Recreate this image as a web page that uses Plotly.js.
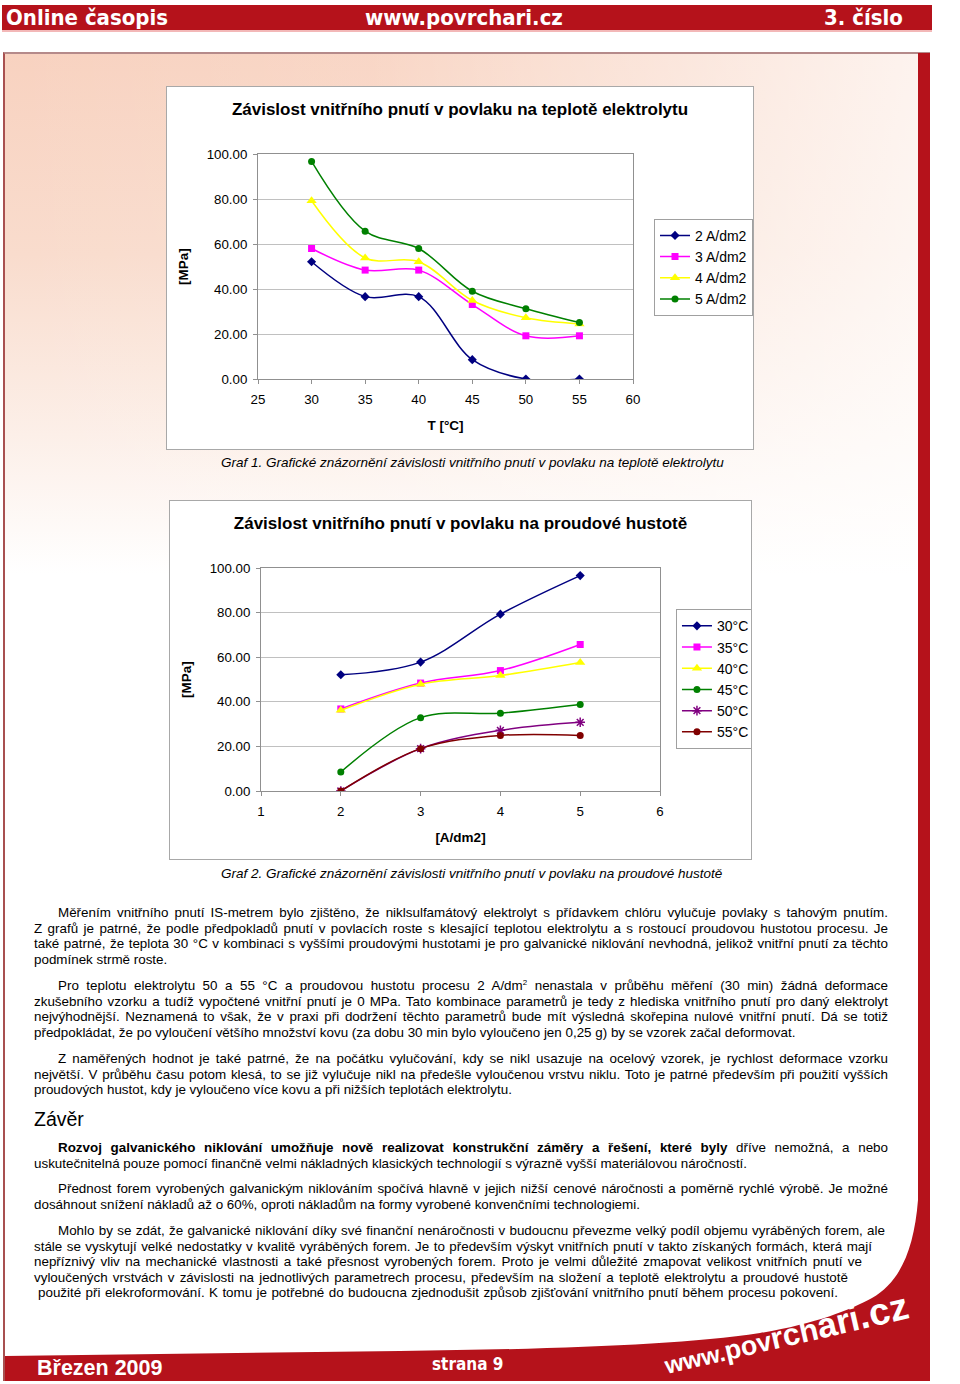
<!DOCTYPE html>
<html>
<head>
<meta charset="utf-8">
<script src="https://cdn.plot.ly/plotly-3.0.1.min.js"></script>
<style>
  html, body { margin:0; padding:0; }
  body { width:960px; height:1384px; position:relative; background:#fff; overflow:hidden;
         font-family:"Liberation Sans", Arial, sans-serif; color:#000; }
  .abs { position:absolute; }
  #hdr { left:2px; top:5px; width:930px; height:25px; background:#b5121b; border-bottom:2px solid #f3b8b8; }
  .hdrtxt { position:absolute; top:0; line-height:26px; color:#fff; font-weight:bold; font-size:22px;
            font-family:"Liberation Sans Narrow","DejaVu Sans Condensed","Liberation Sans",sans-serif; font-stretch:condensed; }
  #frame { left:3px; top:52px; width:927px; height:1329px; box-sizing:border-box;
           border-left:2px solid #a85050; border-top:2px solid #b58a8a;
           background-color:#fff;
           background-image: linear-gradient(to right, rgba(255,255,255,0) 0%, rgba(255,255,255,0.1) 40%, rgba(255,255,255,0.75) 100%),
                             linear-gradient(to bottom, #f8d2c0 0px, #f9dccd 200px, #fcefe8 380px, #ffffff 520px); }
  #rbar { left:918px; top:53px; width:12px; height:1328px; background:#b5121b; }
  .box { position:absolute; background:#fff; border:1px solid #a8a8a8; box-sizing:border-box; }
  .cap { position:absolute; font-style:italic; font-size:13.5px; white-space:nowrap; }
  .para { position:absolute; left:34px; width:854px; font-size:13.4px; line-height:15.6px; }
  .para span.l { display:block; white-space:nowrap; text-align:justify; text-align-last:justify; }
  .para span.first { padding-left:24px; }
  .para span.last { text-align-last:left; }
</style>
</head>
<body>
<div id="hdr" class="abs">
  <div class="hdrtxt" style="left:4px;">Online časopis</div>
  <div class="hdrtxt" style="left:363px;">www.povrchari.cz</div>
  <div class="hdrtxt" style="left:822px;">3. číslo</div>
</div>
<div id="frame" class="abs"></div>
<div id="rbar" class="abs"></div>

<div class="box" style="left:166px;top:86px;width:588px;height:364px;"><div id="c1"></div></div>
<div class="cap" style="left:221px;top:455px;">Graf 1. Grafické znázornění závislosti vnitřního pnutí v povlaku na teplotě elektrolytu</div>

<div class="box" style="left:169px;top:500px;width:583px;height:360px;"><div id="c2"></div></div>
<div class="cap" style="left:221px;top:866px;">Graf 2. Grafické znázornění závislosti vnitřního pnutí v povlaku na proudové hustotě</div>

<div class="para" style="top:905px;">
<span class="l first">Měřením vnitřního pnutí IS-metrem bylo zjištěno, že niklsulfamátový elektrolyt s přídavkem chlóru vylučuje povlaky s tahovým pnutím.</span>
<span class="l">Z grafů je patrné, že podle předpokladů pnutí v povlacích roste s klesající teplotou elektrolytu a s rostoucí proudovou hustotou procesu. Je</span>
<span class="l">také patrné, že teplota 30 °C v kombinaci s vyššími proudovými hustotami je pro galvanické niklování nevhodná, jelikož vnitřní pnutí za těchto</span>
<span class="l last">podmínek strmě roste.</span>
</div>

<div class="para" style="top:978px;">
<span class="l first">Pro teplotu elektrolytu 50 a 55 °C a proudovou hustotu procesu 2 A/dm<sup style="font-size:8px;line-height:0;">2</sup> nenastala v průběhu měření (30 min) žádná deformace</span>
<span class="l">zkušebního vzorku a tudíž vypočtené vnitřní pnutí je 0 MPa. Tato kombinace parametrů je tedy z hlediska vnitřního pnutí pro daný elektrolyt</span>
<span class="l">nejvýhodnější. Neznamená to však, že v praxi při dodržení těchto parametrů bude mít výsledná skořepina nulové vnitřní pnutí. Dá se totiž</span>
<span class="l last">předpokládat, že po vyloučení většího množství kovu (za dobu 30 min bylo vyloučeno jen 0,25 g) by se vzorek začal deformovat.</span>
</div>

<div class="para" style="top:1051px;">
<span class="l first">Z naměřených hodnot je také patrné, že na počátku vylučování, kdy se nikl usazuje na ocelový vzorek, je rychlost deformace vzorku</span>
<span class="l">největší. V průběhu času potom klesá, to se již vylučuje nikl na předešle vyloučenou vrstvu niklu. Toto je patrné především při použití vyšších</span>
<span class="l last">proudových hustot, kdy je vyloučeno více kovu a při nižších teplotách elektrolytu.</span>
</div>

<div class="abs" style="left:34px;top:1108px;font-size:19.5px;line-height:22px;">Závěr</div>

<div class="para" style="top:1140px;">
<span class="l first"><b>Rozvoj galvanického niklování umožňuje nově realizovat konstrukční záměry a řešení, které byly</b> dříve nemožná, a nebo</span>
<span class="l last">uskutečnitelná pouze pomocí finančně velmi nákladných klasických technologií s výrazně vyšší materiálovou náročností.</span>
</div>

<div class="para" style="top:1181px;">
<span class="l first">Přednost forem vyrobených galvanickým niklováním spočívá hlavně v jejich nižší cenové náročnosti a poměrně rychlé výrobě. Je možné</span>
<span class="l last">dosáhnout snížení nákladů až o 60%, oproti nákladům na formy vyrobené konvenčními technologiemi.</span>
</div>

<div class="para" style="top:1223px;">
<span class="l first" style="width:827px;">Mohlo by se zdát, že galvanické niklování díky své finanční nenáročnosti v budoucnu převezme velký podíl objemu vyráběných forem, ale</span>
<span class="l" style="width:838px;">stále se vyskytují velké nedostatky v kvalitě vyráběných forem. Je to především výskyt vnitřních pnutí v takto získaných formách, která mají</span>
<span class="l" style="width:828px;">nepříznivý vliv na mechanické vlastnosti a také přesnost vyrobených forem. Proto je velmi důležité zmapovat velikost vnitřních pnutí ve</span>
<span class="l" style="width:814px;">vyloučených vrstvách v závislosti na jednotlivých parametrech procesu, především na složení a teplotě elektrolytu a proudové hustotě</span>
<span class="l" style="width:800px;margin-left:4px;">použité při elekroformování. K tomu je potřebné do budoucna zjednodušit způsob zjišťování vnitřního pnutí během procesu pokovení.</span>
</div>

<svg class="abs" style="left:0;top:0;" width="960" height="1384">
  <path d="M5,1356 L400,1351 C560,1349 680,1345 760,1333 C815,1324 850,1310 872,1298 C900,1282 914,1250 918,1200 L930,1200 L930,1381 L5,1381 Z" fill="#b5121b"/>
  <text x="667" y="1374" transform="rotate(-13 667 1374)" fill="#fff" font-weight="bold"
        font-family="'Liberation Sans','DejaVu Sans',sans-serif" textLength="250" lengthAdjust="spacingAndGlyphs"><tspan font-size="24">www.</tspan><tspan font-size="27">pov</tspan><tspan font-size="31">rch</tspan><tspan font-size="35">ari</tspan><tspan font-size="38">.cz</tspan></text>
</svg>
<div class="abs" style="left:37px;top:1356px;color:#fff;font-weight:bold;font-size:21.5px;line-height:24px;">Březen 2009</div>
<div class="abs" style="left:432px;top:1354px;color:#fff;font-weight:bold;font-size:17px;line-height:20px;font-family:'Liberation Sans Narrow','DejaVu Sans Condensed',sans-serif;">strana 9</div>

<script>
// ---- Chart 1 data: stress [MPa] vs temperature, per current density ----
const temps = [30, 35, 40, 45, 50, 55];
const cd2 = [52.1, 36.6, 36.6, 8.6, 0, 0];
const cd3 = [58.0, 48.4, 48.4, 33.1, 19.2, 19.2];
const cd4 = [79.2, 53.8, 52.1, 34.9, 27.2, 24.5];
const cd5 = [96.7, 65.7, 58.0, 39.0, 31.2, 25.1];
const names1 = ['2 A/dm2', '3 A/dm2', '4 A/dm2', '5 A/dm2'];

// ---- Chart 2 data: stress [MPa] vs current density, per temperature ----
const dens = [2, 3, 4, 5];
const t30 = [52.1, 57.8, 79.3, 96.6];
const t35 = [36.8, 48.4, 54.0, 65.7];
const t40 = [36.2, 47.9, 51.8, 57.6];
const t45 = [8.5, 32.9, 34.9, 38.8];
const t50 = [0, 19.0, 27.2, 30.8];
const t55 = [0, 19.0, 24.9, 24.9];
const names2 = ['30°C', '35°C', '40°C', '45°C', '50°C', '55°C'];

const yTicks = [0, 20, 40, 60, 80, 100];
const FONT = '"Liberation Sans", Arial, sans-serif';

function tr(x, y, name, color, symbol, open) {
  const m = {symbol: symbol, size: symbol === 'triangle-up' ? 9 : 7, color: color};
  if (open) { m.line = {color: color, width: 1.5}; m.size = 8; }
  return {x: x, y: y, name: name, type: 'scatter', mode: 'lines+markers',
          line: {color: color, width: 1.5, shape: 'spline', smoothing: 1},
          marker: m, hoverinfo: 'skip'};
}

function axisY() {
  return {range: [0, 100], tickvals: yTicks, tickformat: '.2f', showgrid: true, gridcolor: '#c0c0c0',
          gridwidth: 1, zeroline: false, showline: true, linecolor: '#909090', mirror: true,
          ticks: 'outside', ticklen: 4, tickcolor: '#909090', fixedrange: true, ticklabelstandoff: 3,
          tickfont: {size: 13.3, family: FONT, color: '#000'},
          title: {text: '<b>[MPa]</b>', font: {size: 13.5, family: FONT, color: '#000'}, standoff: 14}};
}

function axisX(range, dtick, title) {
  return {range: range, dtick: dtick, tick0: range[0], showgrid: false, zeroline: false, showline: true,
          linecolor: '#909090', mirror: true, ticks: 'outside', ticklen: 4, tickcolor: '#909090', fixedrange: true,
          ticklabelstandoff: 4,
          tickfont: {size: 13.3, family: FONT, color: '#000'},
          title: {text: '<b>' + title + '</b>', font: {size: 13.5, family: FONT, color: '#000'}, standoff: 14}};
}

function legend(x, y) {
  return {x: x, y: y, xanchor: 'left', yanchor: 'top', bgcolor: '#fff', bordercolor: '#a0a0a0',
          borderwidth: 1, font: {size: 14, family: FONT, color: '#000'}, tracegroupgap: 0, itemwidth: 30};
}

const data1 = [
  tr(temps, cd2, names1[0], '#000080', 'diamond'),
  tr(temps, cd3, names1[1], '#ff00ff', 'square'),
  tr(temps, cd4, names1[2], '#ffff00', 'triangle-up'),
  tr(temps, cd5, names1[3], '#008000', 'circle')
];
const layout1 = {
  width: 586, height: 362, margin: {l: 91, r: 120, t: 67, b: 70, autoexpand: false},
  paper_bgcolor: '#fff', plot_bgcolor: '#fff', font: {family: FONT, color: '#000'},
  title: {text: '<b>Závislost vnitřního pnutí v povlaku na teplotě elektrolytu</b>',
          font: {size: 17, family: FONT, color: '#000'}, x: 0.5, xanchor: 'center', y: 0.939, yanchor: 'middle'},
  xaxis: axisX([25, 60], 5, 'T [°C]'),
  yaxis: axisY(),
  showlegend: true,
  legend: legend(1.056, 0.712)
};

const data2 = [
  tr(dens, t30, names2[0], '#000080', 'diamond'),
  tr(dens, t35, names2[1], '#ff00ff', 'square'),
  tr(dens, t40, names2[2], '#ffff00', 'triangle-up'),
  tr(dens, t45, names2[3], '#008000', 'circle'),
  tr(dens, t50, names2[4], '#800080', 'asterisk-open', true),
  tr(dens, t55, names2[5], '#800000', 'circle')
];
const layout2 = {
  width: 581, height: 358, margin: {l: 91, r: 91, t: 67, b: 68, autoexpand: false},
  paper_bgcolor: '#fff', plot_bgcolor: '#fff', font: {family: FONT, color: '#000'},
  title: {text: '<b>Závislost vnitřního pnutí v povlaku na proudové hustotě</b>',
          font: {size: 17, family: FONT, color: '#000'}, x: 0.5, xanchor: 'center', y: 0.9385, yanchor: 'middle'},
  xaxis: axisX([1, 6], 1, '[A/dm2]'),
  yaxis: axisY(),
  showlegend: true,
  legend: legend(1.04, 0.815)
};

const cfg = {displayModeBar: false, staticPlot: true};
Plotly.newPlot('c1', data1, layout1, cfg);
Plotly.newPlot('c2', data2, layout2, cfg);
</script>
</body>
</html>
